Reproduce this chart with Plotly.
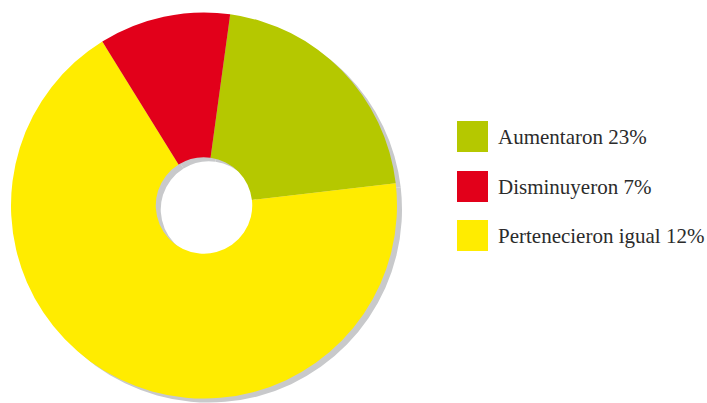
import plotly.graph_objects as go

W, H = 707, 403

# Data (slice sizes; legend labels as printed)
categories = ["Aumentaron", "Disminuyeron", "Pertenecieron igual"]
legend_labels = ["Aumentaron 23%", "Disminuyeron 7%", "Pertenecieron igual 12%"]
slice_values = [21, 11, 68]
colors = ["#B5C800", "#E2001A", "#FFEC00"]

# order clockwise from the green slice start
order = [0, 2, 1]

cx, cy, r = 204, 205.5, 193
sx, sy = 209, 209.5
hole = 0.25


def dom(x, y, rad):
    return dict(x=[(x - rad) / W, (x + rad) / W],
                y=[(H - y - rad) / H, (H - y + rad) / H])


fig = go.Figure()
fig.add_trace(go.Pie(
    labels=[categories[i] for i in order],
    values=[slice_values[i] for i in order],
    marker=dict(colors=["#C8C9CB"] * 3, line=dict(width=0)),
    hole=hole, sort=False, direction="clockwise", rotation=7.8,
    textinfo="none", hoverinfo="skip", showlegend=False,
    domain=dom(sx, sy, r),
))
fig.add_trace(go.Pie(
    labels=[categories[i] for i in order],
    values=[slice_values[i] for i in order],
    marker=dict(colors=[colors[i] for i in order], line=dict(width=0)),
    hole=hole, sort=False, direction="clockwise", rotation=7.8,
    textinfo="none", hoverinfo="label+value", showlegend=False,
    domain=dom(cx, cy, r),
))

# custom legend
box_x0, box_x1 = 457, 488
row_tops = [121, 171, 220]
size = 31
shapes, annotations = [], []
for i, lab in enumerate(legend_labels):
    t = row_tops[i]
    shapes.append(dict(type="rect", xref="paper", yref="paper",
                       x0=box_x0 / W, x1=box_x1 / W,
                       y0=(H - t - size) / H, y1=(H - t) / H,
                       fillcolor=colors[i], line=dict(width=0)))
    annotations.append(dict(xref="paper", yref="paper",
                            x=496 / W, y=(H - t - size / 2) / H,
                            xanchor="left", yanchor="middle",
                            text=lab, showarrow=False,
                            font=dict(family="Liberation Serif", size=21, color="#2b2b2b")))

fig.update_layout(
    width=W, height=H,
    margin=dict(l=0, r=0, t=0, b=0),
    paper_bgcolor="white", plot_bgcolor="white",
    shapes=shapes, annotations=annotations,
)
fig.write_html("out.html",
               config={"displayModeBar": False},
               post_script="document.body.style.margin='0';document.body.style.overflow='hidden';")
